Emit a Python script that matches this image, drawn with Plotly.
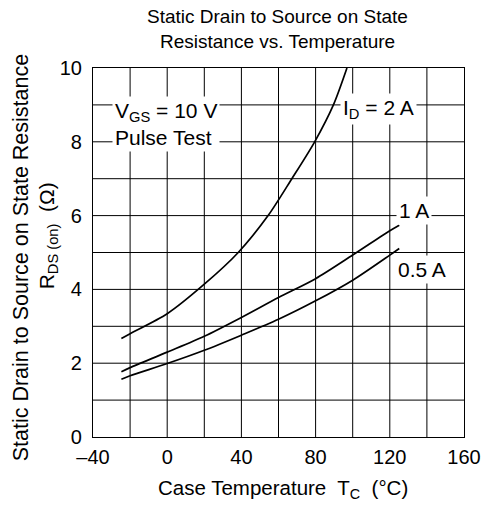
import plotly.graph_objects as go

temp_2a = [-24.7, -20, 0, 20, 38.3, 54.4, 67.2, 79.5, 89.6, 96.9]
rds_2a = [2.67, 2.80, 3.34, 4.14, 5.0, 6.0, 7.0, 8.0, 9.0, 10.0]
temp_1a = [-24.7, -20, 0, 20, 40, 60, 80, 100, 120, 125.1]
rds_1a = [1.77, 1.88, 2.30, 2.73, 3.24, 3.78, 4.29, 4.93, 5.59, 5.74]
temp_05a = [-24.7, -20, 0, 20, 40, 60, 80, 100, 120, 125.1]
rds_05a = [1.565, 1.66, 1.99, 2.35, 2.76, 3.19, 3.69, 4.25, 4.93, 5.11]

x_ticks = [-40, 0, 40, 80, 120, 160]
x_tick_text = ["\u201340", "0", "40", "80", "120", "160"]
y_ticks = [0, 2, 4, 6, 8, 10]

FONT = "Liberation Sans, Arial, sans-serif"

fig = go.Figure()
for xs, ys in [(temp_2a, rds_2a), (temp_1a, rds_1a), (temp_05a, rds_05a)]:
    fig.add_trace(go.Scatter(x=xs, y=ys, mode="lines",
                             line=dict(color="black", width=1.7, shape="spline", smoothing=0.8),
                             showlegend=False, hoverinfo="skip"))

annots = [
    dict(x=-30.0, y=8.49, text="V<sub>GS</sub> = 10 V<br>Pulse Test", xanchor="left", align="left"),
    dict(x=113.9, y=8.9, text="I<sub>D</sub> = 2 A", xanchor="center", align="center"),
    dict(x=132.9, y=6.14, text="1 A", xanchor="center", align="center"),
    dict(x=137.1, y=4.53, text="0.5 A", xanchor="center", align="center"),
]
for a in annots:
    fig.add_annotation(xref="x", yref="y", showarrow=False, bgcolor="white",
                       font=dict(family=FONT, size=21, color="black"), borderpad=2, **a)

def txt(size):
    return dict(showarrow=False, font=dict(family=FONT, size=size, color="black"))

# title lines
fig.add_annotation(xref="paper", yref="paper", x=0.498, y=1.14, xanchor="center", yanchor="middle",
                   text="Static Drain to Source on State", **txt(19))
fig.add_annotation(xref="paper", yref="paper", x=0.498, y=1.073, xanchor="center", yanchor="middle",
                   text="Resistance vs. Temperature", **txt(19))
# y-axis title (two lines)
fig.add_annotation(xref="paper", yref="paper", x=-0.195, y=0.486, xanchor="center", yanchor="middle",
                   text="Static Drain to Source on State Resistance", textangle=-90, **txt(21.5))
fig.add_annotation(xref="paper", yref="paper", x=-0.121, y=0.544, xanchor="center", yanchor="middle",
                   text="R<sub>DS (on)</sub>  (\u03a9)", textangle=-90, **txt(21))
# x-axis title
fig.add_annotation(xref="paper", yref="paper", x=0.513, y=-0.1417, xanchor="center", yanchor="middle",
                   text="Case Temperature  T<sub>C</sub>  (\u00b0C)", **txt(20.5))

fig.update_layout(
    width=493, height=506,
    margin=dict(l=93, r=20, t=68, b=69),
    paper_bgcolor="white", plot_bgcolor="white",
    font=dict(family=FONT, size=20, color="black"),
    xaxis=dict(range=[-40, 160], tickvals=x_ticks, ticktext=x_tick_text,
               showgrid=False, zeroline=False, showline=True, linecolor="black", linewidth=1.2,
               mirror=True, ticks="", ticklen=0, ticklabelstandoff=2),
    yaxis=dict(range=[0, 10], tickvals=y_ticks, showgrid=False, zeroline=False,
               showline=True, linecolor="black", linewidth=1.2, mirror=True, ticks="",
               ticklen=0, ticklabelstandoff=6),
)

# grid lines every 20 on x and every 1 on y
for gx in range(-20, 160, 20):
    fig.add_shape(type="line", xref="x", yref="y", x0=gx, x1=gx, y0=0, y1=10,
                  line=dict(color="black", width=1), layer="below")
for gy in range(1, 10):
    fig.add_shape(type="line", xref="x", yref="y", x0=-40, x1=160, y0=gy, y1=gy,
                  line=dict(color="black", width=1), layer="below")

fig.write_html("out.html", config={"displayModeBar": False},
               post_script="document.body.style.margin='0';document.body.style.overflow='hidden';")
